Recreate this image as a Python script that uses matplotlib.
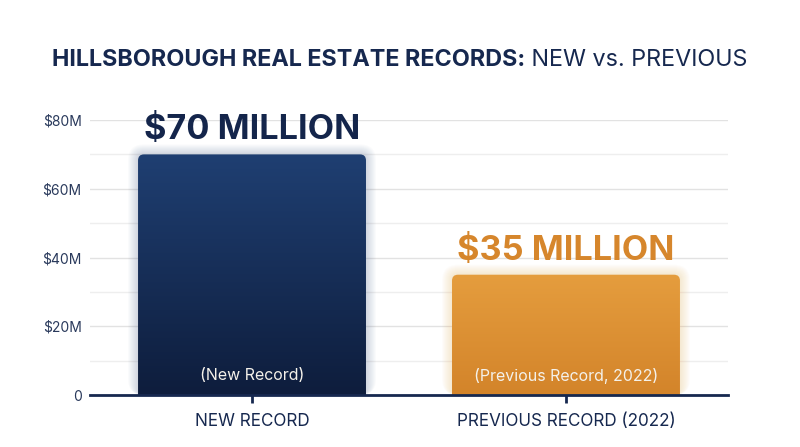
import numpy as np
import matplotlib
matplotlib.use('Agg')
import matplotlib.pyplot as plt
from matplotlib.patches import FancyBboxPatch
import matplotlib.colors as mcolors

plt.rcParams['font.family'] = ['Inter', 'DejaVu Sans']

# data
categories = ['NEW RECORD', 'PREVIOUS RECORD (2022)']
values = [70e6, 35e6]
top_labels = ['$70 MILLION', '$35 MILLION']
inner_labels = ['(New Record)', '(Previous Record, 2022)']
ytick_vals = [0, 20e6, 40e6, 60e6, 80e6]
ytick_labels = ['0', '$20M', '$40M', '$60M', '$80M']

navy = '#16284f'
bar_top = ['#1f3f72', '#e59d3e']
bar_bot = ['#0e1d3c', '#d3842a']
glow_colors = ['#5a6f96', '#f4b25a']
label_colors = ['#14254b', '#d6862c']

fig = plt.figure(figsize=(8, 4.47), dpi=100)
ax = fig.add_axes([0.1125, 0.1163, 0.7975, 0.6152])

x = np.arange(len(categories))
bars = ax.bar(x, values, width=0.726, color='none', zorder=3)

ax.set_xlim(-0.516, 1.516)
ax.set_ylim(0, 80e6)

# pixel scale of data units, used to make round corners and glow look even
fig.canvas.draw()
p0 = ax.transData.transform((0, 0))
p1 = ax.transData.transform((1, 1e6))
px_x = p1[0] - p0[0]          # pixels per x unit
px_y = (p1[1] - p0[1]) / 1e6  # pixels per y unit
aspect = px_x / px_y

# draw each bar as rounded, gradient-filled patch with a soft glow
for i, b in enumerate(bars):
    bx, bw, bh = b.get_x(), b.get_width(), b.get_height()
    r = 6 / px_x
    for k in range(10):
        g = (k + 1) / px_x
        gp = FancyBboxPatch((bx - g, 0), bw + 2 * g, bh + g * aspect,
                            boxstyle='round,pad=0,rounding_size=%f' % (r + g),
                            mutation_aspect=aspect,
                            facecolor=glow_colors[i], edgecolor='none',
                            alpha=0.028, zorder=2)
        ax.add_patch(gp)
    clip = FancyBboxPatch((bx, -r * aspect), bw, bh + r * aspect,
                          boxstyle='round,pad=0,rounding_size=%f' % r,
                          mutation_aspect=aspect,
                          facecolor='none', edgecolor='none', zorder=3)
    ax.add_patch(clip)
    c1 = np.array(mcolors.to_rgb(bar_top[i]))
    c2 = np.array(mcolors.to_rgb(bar_bot[i]))
    t = np.linspace(0, 1, 256)[:, None]
    grad = (c1 * (1 - t) + c2 * t)[:, None, :]
    im = ax.imshow(grad, extent=(bx, bx + bw, 0, bh), aspect='auto',
                   origin='upper', zorder=3, interpolation='bilinear')
    im.set_clip_path(clip)
    ax.text(bx + bw / 2, bh + 2.3e6, top_labels[i], ha='center', va='bottom',
            fontsize=24.7, fontweight='bold', color=label_colors[i], zorder=5)
    ax.text(bx + bw / 2, 5.6e6, inner_labels[i], ha='center', va='center',
            fontsize=11.5, color='#f4f1ea', zorder=5)

ax.set_xlim(-0.516, 1.516)
ax.set_ylim(0, 80e6)
ax.set_xticks(x)
ax.set_xticklabels(categories, fontsize=12.3, color=navy)
ax.set_yticks(ytick_vals)
ax.set_yticklabels(ytick_labels, fontsize=10, color='#2a3a5c')
ax.set_yticks(np.arange(10e6, 80e6, 20e6), minor=True)
ax.grid(axis='y', which='major', color='#e2e2e2', linewidth=1, zorder=0)
ax.grid(axis='y', which='minor', color='#eeeeee', linewidth=1, zorder=0)
ax.tick_params(axis='y', which='both', length=0, pad=6)
ax.tick_params(axis='x', length=6, width=2, color=navy, pad=7)
ax.set_axisbelow(True)

for s in ['top', 'right', 'left']:
    ax.spines[s].set_visible(False)
ax.spines['bottom'].set_color(navy)
ax.spines['bottom'].set_linewidth(2)
ax.spines['bottom'].set_zorder(6)

# title: bold part + regular part
ty = 0.866
t1 = fig.text(0.5, ty, 'HILLSBOROUGH REAL ESTATE RECORDS:', fontsize=16.8,
              fontweight='bold', color=navy, ha='right', va='center')
t2 = fig.text(0.5, ty, ' NEW vs. PREVIOUS', fontsize=16.8, color=navy,
              ha='left', va='center')
fig.canvas.draw()
rnd = fig.canvas.get_renderer()
w1 = t1.get_window_extent(rnd).width
w2 = t2.get_window_extent(rnd).width
left = (800 - (w1 + w2)) / 2
t1.set_position(((left + w1) / 800, ty))
t2.set_position(((left + w1) / 800, ty))

fig.savefig('out.png', dpi=100, facecolor='white')
